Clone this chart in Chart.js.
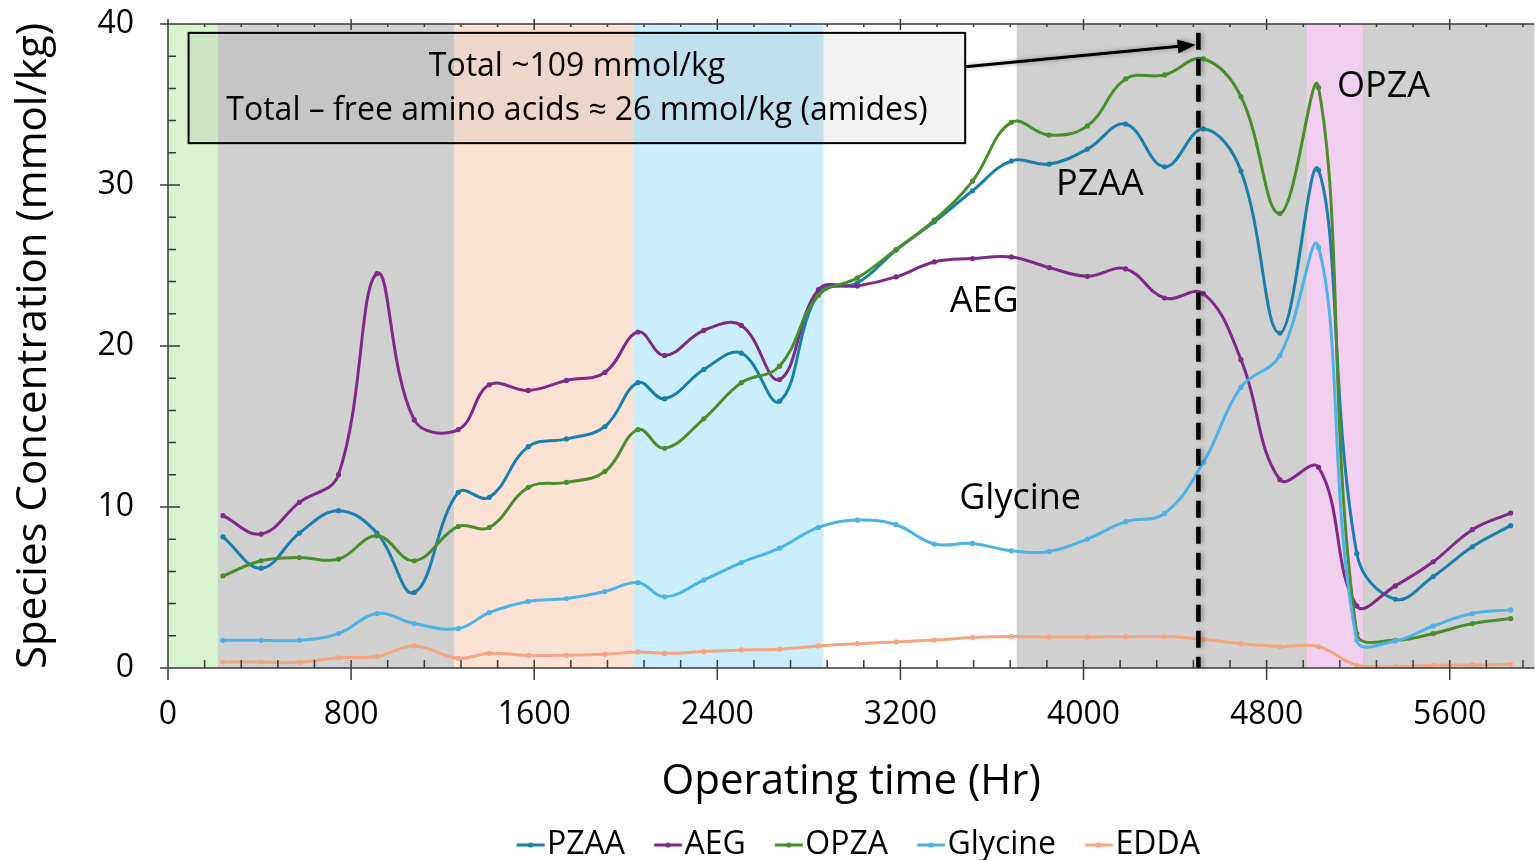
<!DOCTYPE html>
<html>
<head>
<meta charset="utf-8">
<script src="https://cdn.jsdelivr.net/npm/chart.js@4.4.0/dist/chart.umd.min.js"></script>
<style>
  html, body { margin: 0; padding: 0; background: #fff; overflow: hidden; }
</style>
</head>
<body>
<canvas id="chart" width="1537" height="871"></canvas>
<script>
// sample times (hr)
const hours = [240, 407, 574, 745, 913, 1076, 1268, 1404, 1574, 1741, 1909, 2053, 2170, 2341, 2505, 2672, 2842,
  3012, 3181, 3348, 3515, 3685, 3850, 4017, 4184, 4354, 4524, 4688, 4858, 5027, 5194, 5362, 5528, 5699, 5866];

const pzaa = [8.15, 6.20, 8.38, 9.77, 8.38, 4.69, 10.91, 10.60, 13.75, 14.23, 15.00, 17.72, 16.72, 18.54, 19.56, 16.57, 23.27,
  23.92, 25.95, 27.71, 29.64, 31.49, 31.30, 32.23, 33.79, 31.13, 33.48, 30.87, 20.80, 30.93, 7.11, 4.27, 5.68, 7.53, 8.84];
const aeg = [9.46, 8.32, 10.29, 12.01, 24.5, 15.41, 14.81, 17.59, 17.24, 17.86, 18.36, 20.87, 19.41, 20.97, 21.28, 17.92, 23.5,
  23.73, 24.29, 25.22, 25.43, 25.53, 24.87, 24.33, 24.79, 22.98, 23.25, 19.15, 11.70, 12.47, 3.86, 5.10, 6.60, 8.59, 9.62];
const opza = [5.72, 6.66, 6.86, 6.76, 8.21, 6.66, 8.79, 8.73, 11.22, 11.53, 12.20, 14.81, 13.65, 15.48, 17.72, 18.75, 23.15,
  24.23, 25.99, 27.82, 30.24, 33.89, 33.10, 33.67, 36.59, 36.84, 37.83, 35.49, 28.23, 36.05, 2.14, 1.72, 2.14, 2.76, 3.07];
const glycine = [1.72, 1.72, 1.72, 2.14, 3.38, 2.76, 2.45, 3.44, 4.13, 4.31, 4.75, 5.31, 4.42, 5.46, 6.55, 7.45, 8.73,
  9.19, 8.90, 7.70, 7.74, 7.28, 7.24, 8.01, 9.09, 9.60, 12.78, 17.44, 19.41, 26.12, 1.74, 1.68, 2.61, 3.38, 3.61];
const edda = [0.37, 0.37, 0.35, 0.64, 0.71, 1.37, 0.60, 0.91, 0.79, 0.79, 0.85, 1.00, 0.91, 1.02, 1.12, 1.16, 1.37,
  1.51, 1.62, 1.74, 1.89, 1.95, 1.93, 1.93, 1.95, 1.95, 1.78, 1.51, 1.33, 1.33, 0.17, 0.08, 0.17, 0.19, 0.23];

const seriesNames = ['PZAA', 'AEG', 'OPZA', 'Glycine', 'EDDA'];
const seriesColors = ['#1a7fab', '#7f2a84', '#4a8d2c', '#4db2e6', '#f4a582'];

const xTicks = [0, 800, 1600, 2400, 3200, 4000, 4800, 5600];
const yTicks = [0, 10, 20, 30, 40];

// operating periods (hr) and their shading
const bandEdges = [0, 218, 1250, 2033, 2865, 3708, 4977, 5221, 5970];
const bandColors = ['#d9f2d0', '#d0d0d0', '#fbe2d5', '#caeefb', '#ffffff', '#d0d0d0', '#f2cfee', '#d0d0d0'];

// text notes (hr, mmol/kg)
const tagTexts = ['OPZA', 'PZAA', 'AEG', 'Glycine'];
const tagHours = [5311, 4072, 3566, 3723];
const tagConc = [36.09, 30.0, 22.77, 10.49];

const noteLines = ['Total ~109 mmol/kg', 'Total \u2013 free amino acids \u2248 26 mmol/kg (amides)'];
const noteHour = 1787;
const noteConc = [37.34, 34.6];
const noteBoxHours = [90, 3483];
const noteBoxConc = [32.6, 39.45];
const arrowFrom = [3483, 37.34];
const arrowTo = [4490, 38.71];
const markerHour = 4502;
const markerTop = 39.45;

const FONT = "'Open Sans', 'Noto Sans', sans-serif";
const AXIS = '#3a3a3a';

function legendIcon(color) {
  const c = document.createElement('canvas');
  c.width = 60; c.height = 10;
  const g = c.getContext('2d');
  g.strokeStyle = color; g.lineWidth = 3;
  g.beginPath(); g.moveTo(29.75, 5); g.lineTo(57.75, 5); g.stroke();
  g.fillStyle = color;
  g.beginPath(); g.arc(43.75, 5, 2.6, 0, Math.PI * 2); g.fill();
  return c;
}

const allSeries = [pzaa, aeg, opza, glycine, edda];
const datasets = allSeries.map((vals, i) => ({
  label: seriesNames[i],
  data: hours.map((h, j) => ({ x: h, y: vals[j] })),
  borderColor: seriesColors[i],
  backgroundColor: seriesColors[i],
  borderWidth: 3,
  pointRadius: 2.6,
  pointHoverRadius: 2.6,
  pointBorderWidth: 0,
  tension: 0.4,
  order: 4 - i
}));

const bands = {
  id: 'bands',
  beforeDraw(chart) {
    const { ctx, chartArea: a, scales: { x } } = chart;
    ctx.save();
    for (let i = 0; i < bandColors.length; i++) {
      const x0 = Math.max(a.left, x.getPixelForValue(bandEdges[i]));
      const x1 = Math.min(a.right, x.getPixelForValue(bandEdges[i + 1]));
      ctx.fillStyle = bandColors[i];
      ctx.fillRect(x0, a.top, x1 - x0, a.bottom - a.top);
    }
    ctx.restore();
  }
};

const notes = {
  id: 'notes',
  afterDatasetsDraw(chart) {
    const { ctx, scales: { x, y } } = chart;
    ctx.save();

    // dashed marker line
    const mx = x.getPixelForValue(markerHour);
    ctx.strokeStyle = '#000';
    ctx.lineWidth = 4.5;
    ctx.setLineDash([17, 9]);
    ctx.shadowColor = 'rgba(0,0,0,0.35)';
    ctx.shadowBlur = 5;
    ctx.shadowOffsetX = 2;
    ctx.beginPath();
    ctx.moveTo(mx, y.getPixelForValue(markerTop));
    ctx.lineTo(mx, y.getPixelForValue(0));
    ctx.stroke();
    ctx.setLineDash([]);

    // arrow
    const ax0 = x.getPixelForValue(arrowFrom[0]), ay0 = y.getPixelForValue(arrowFrom[1]);
    const ax1 = x.getPixelForValue(arrowTo[0]), ay1 = y.getPixelForValue(arrowTo[1]);
    const ang = Math.atan2(ay1 - ay0, ax1 - ax0);
    ctx.lineWidth = 3;
    ctx.beginPath();
    ctx.moveTo(ax0, ay0);
    ctx.lineTo(ax1 - 14 * Math.cos(ang), ay1 - 14 * Math.sin(ang));
    ctx.stroke();
    ctx.fillStyle = '#000';
    ctx.beginPath();
    ctx.moveTo(ax1, ay1);
    ctx.lineTo(ax1 - 18 * Math.cos(ang) + 7 * Math.sin(ang), ay1 - 18 * Math.sin(ang) - 7 * Math.cos(ang));
    ctx.lineTo(ax1 - 18 * Math.cos(ang) - 7 * Math.sin(ang), ay1 - 18 * Math.sin(ang) + 7 * Math.cos(ang));
    ctx.closePath();
    ctx.fill();
    ctx.shadowColor = 'transparent';

    // note box
    const bx0 = x.getPixelForValue(noteBoxHours[0]), bx1 = x.getPixelForValue(noteBoxHours[1]);
    const by0 = y.getPixelForValue(noteBoxConc[1]), by1 = y.getPixelForValue(noteBoxConc[0]);
    ctx.fillStyle = 'rgba(0,0,0,0.05)';
    ctx.fillRect(bx0, by0, bx1 - bx0, by1 - by0);
    ctx.lineWidth = 2;
    ctx.strokeStyle = '#000';
    ctx.strokeRect(bx0, by0, bx1 - bx0, by1 - by0);

    ctx.fillStyle = '#000';
    ctx.textAlign = 'center';
    ctx.textBaseline = 'middle';
    ctx.font = '32px ' + FONT;
    noteLines.forEach((t, i) => {
      ctx.fillText(t, x.getPixelForValue(noteHour), y.getPixelForValue(noteConc[i]));
    });

    ctx.font = '36px ' + FONT;
    tagTexts.forEach((t, i) => {
      ctx.fillText(t, x.getPixelForValue(tagHours[i]), y.getPixelForValue(tagConc[i]));
    });
    ctx.restore();
  }
};

// axis frame with inside minor ticks and crossing major ticks
const frame = {
  id: 'frame',
  afterDraw(chart) {
    const { ctx, chartArea: a, scales: { x, y } } = chart;
    ctx.save();
    ctx.strokeStyle = AXIS;
    ctx.lineWidth = 1.5;
    ctx.beginPath();
    ctx.moveTo(a.left, a.top); ctx.lineTo(a.right, a.top);
    ctx.moveTo(a.left, a.top); ctx.lineTo(a.left, a.bottom);
    ctx.moveTo(a.left, a.bottom); ctx.lineTo(a.right, a.bottom);
    for (let v = 0; v <= x.max; v += 160) {
      const px = x.getPixelForValue(v);
      const major = v % 800 === 0;
      ctx.moveTo(px, a.bottom - 8); ctx.lineTo(px, a.bottom + (major ? 12 : 0));
      ctx.moveTo(px, a.top + (major ? 6 : 3)); ctx.lineTo(px, a.top - (major ? 5 : 0));
    }
    for (let v = 0; v <= y.max; v += 2) {
      const py = y.getPixelForValue(v);
      const major = v % 10 === 0;
      ctx.moveTo(a.left - (major ? 8 : 0), py); ctx.lineTo(a.left + (major ? 12 : 8), py);
    }
    ctx.stroke();
    ctx.restore();
  }
};

new Chart(document.getElementById('chart'), {
  type: 'line',
  data: { datasets },
  options: {
    responsive: false,
    animation: false,
    layout: { padding: { top: 24, right: 0, left: 0, bottom: 0 } },
    plugins: {
      tooltip: { enabled: false },
      legend: {
        position: 'bottom',
        fullSize: false,
        labels: {
          usePointStyle: true,
          pointStyleWidth: 28.5,
          padding: 15,
          color: '#000',
          font: { family: FONT, size: 32 },
          generateLabels: (chart) => chart.data.datasets.map((ds, i) => ({
            text: ds.label,
            pointStyle: legendIcon(seriesColors[i]),
            fillStyle: seriesColors[i],
            strokeStyle: seriesColors[i],
            lineWidth: 0,
            fontColor: '#000',
            hidden: false,
            datasetIndex: i
          }))
        }
      }
    },
    scales: {
      x: {
        type: 'linear',
        min: 0,
        max: 5970,
        afterBuildTicks: (s) => { s.ticks = xTicks.map(v => ({ value: v })); },
        afterFit: (s) => { s.height = 146; },
        grid: { display: false, drawTicks: true, tickLength: 28 },
        border: { display: false },
        ticks: {
          color: '#000', padding: 0, maxRotation: 0, autoSkip: false,
          font: { family: FONT, size: 32 },
          callback: (v) => String(v)
        },
        title: {
          display: true,
          text: 'Operating time (Hr)',
          color: '#000',
          font: { family: FONT, size: 42 },
          padding: { top: 0, bottom: 7 }
        }
      },
      y: {
        min: 0,
        max: 40,
        afterBuildTicks: (s) => { s.ticks = yTicks.map(v => ({ value: v })); },
        afterFit: (s) => { s.width = 168; },
        grid: { display: false, drawTicks: true, tickLength: 34 },
        border: { display: false },
        ticks: {
          color: '#000', padding: 0,
          font: { family: FONT, size: 32 },
          callback: (v) => String(v)
        },
        title: {
          display: true,
          text: 'Species Concentration (mmol/kg)',
          color: '#000',
          font: { family: FONT, size: 42 },
          padding: { top: 9, bottom: 0 }
        }
      }
    }
  },
  plugins: [bands, notes, frame]
});
</script>
</body>
</html>
